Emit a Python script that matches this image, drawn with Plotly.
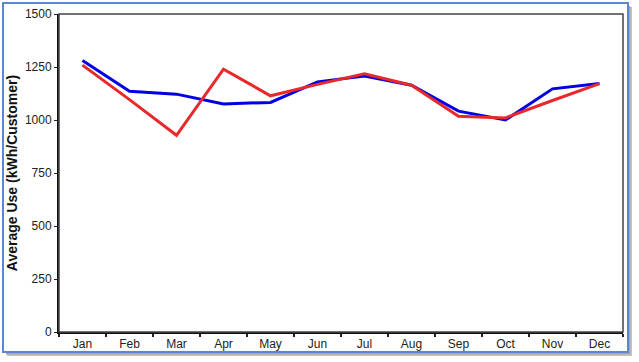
import plotly.graph_objects as go

months = ["Jan", "Feb", "Mar", "Apr", "May", "Jun", "Jul", "Aug", "Sep", "Oct", "Nov", "Dec"]
blue_values = [1281, 1136, 1122, 1076, 1083, 1180, 1207, 1164, 1042, 1000, 1147, 1172]
red_values = [1259, 1096, 928, 1240, 1114, 1168, 1218, 1164, 1018, 1010, 1092, 1172]
y_ticks = [0, 250, 500, 750, 1000, 1250, 1500]

W, H = 639, 362
ml, mr, mt, mb = 59, 16, 14, 30
pw, ph = W - ml - mr, H - mt - mb

def px_x(x):
    return (x - ml) / pw

def px_y(y):
    return (H - mb - y) / ph

fig = go.Figure()
fig.add_trace(go.Scatter(x=months, y=blue_values, mode="lines",
                         line=dict(color="#0000E6", width=3), showlegend=False))
fig.add_trace(go.Scatter(x=months, y=red_values, mode="lines",
                         line=dict(color="#E8282B", width=3), showlegend=False))

shapes = [
    # shadow
    dict(type="rect", xref="paper", yref="paper", layer="below",
         x0=px_x(7), x1=px_x(632), y0=px_y(7), y1=px_y(356),
         fillcolor="#c4c4c4", line=dict(width=0)),
    dict(type="rect", xref="paper", yref="paper", layer="below",
         x0=px_x(6), x1=px_x(630.5), y0=px_y(6), y1=px_y(354.5),
         fillcolor="#a8a8a8", line=dict(width=0)),
    # border
    dict(type="rect", xref="paper", yref="paper", layer="below",
         x0=px_x(3), x1=px_x(628), y0=px_y(3), y1=px_y(352),
         fillcolor="white", line=dict(color="#5B87D2", width=2)),
    # frame top/right (grey)
    dict(type="rect", xref="paper", yref="paper", layer="above",
         x0=0, x1=1, y0=0, y1=1, line=dict(color="#444444", width=1.5)),
]

fig.update_layout(
    width=W, height=H,
    margin=dict(l=ml, r=mr, t=mt, b=mb, autoexpand=False),
    paper_bgcolor="white",
    plot_bgcolor="rgba(0,0,0,0)",
    font=dict(family="Liberation Sans, Arial, sans-serif", size=12, color="#222222"),
    shapes=shapes,
    xaxis=dict(type="category", range=[-0.5, 11.5], tickson="boundaries",
               ticks="outside", ticklen=3, tickwidth=1.5, tickcolor="#222222",
               showline=True, linecolor="#111111", linewidth=2, automargin=False,
               showgrid=False, zeroline=False, fixedrange=True),
    yaxis=dict(range=[0, 1500], tickvals=y_ticks, ticktext=[str(v) for v in y_ticks],
               ticks="outside", ticklen=3, tickwidth=1, tickcolor="#222222",
               showline=True, linecolor="#111111", linewidth=2, automargin=False,
               showgrid=False, zeroline=False, fixedrange=True,
               title=dict(text="<b>Average Use (kWh/Customer)</b>", standoff=4,
                          font=dict(size=14, color="#111111"))),
)

fig.write_html("out.html", config={"displayModeBar": False},
               post_script="document.body.style.margin='0';")
